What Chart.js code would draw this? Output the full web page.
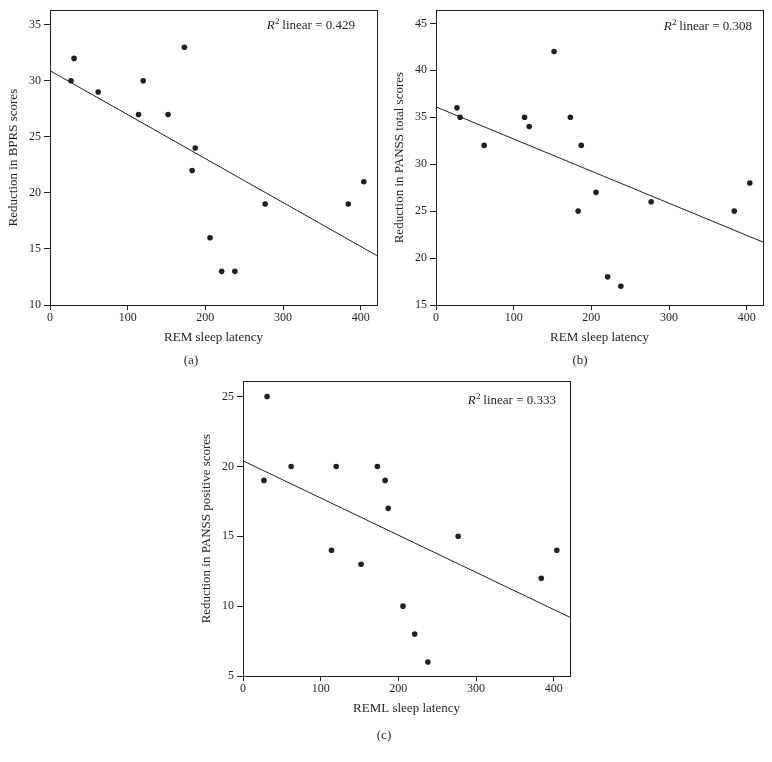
<!DOCTYPE html>
<html>
<head>
<meta charset="utf-8">
<script src="https://cdn.jsdelivr.net/npm/chart.js@4"></script>
<style>
    body { margin: 0; background: #fff; width: 772px; height: 762px; position: relative; overflow: hidden; }
    .panel { position: absolute; width: 386px; height: 380px; }
</style>
</head>
<body>
<div class="panel" style="left:0;top:0"><canvas id="chartA" width="386" height="380"></canvas></div>
<div class="panel" style="left:386px;top:0"><canvas id="chartB" width="386" height="380"></canvas></div>
<div class="panel" style="left:193px;top:371px"><canvas id="chartC" width="386" height="380"></canvas></div>
<script>
// REM sleep latency per patient (same patients in all three panels)
const latency = [27, 31, 62, 114, 120, 152, 173, 183, 187, 206, 221, 238, 277, 384, 404];
const bprsReduction = [30, 32, 29, 27, 30, 27, 33, 22, 24, 16, 13, 13, 19, 19, 21];
const panssTotalReduction = [36, 35, 32, 35, 34, 42, 35, 25, 32, 27, 18, 17, 26, 25, 28];
const panssPositiveReduction = [19, 25, 20, 14, 20, 13, 20, 19, 17, 10, 8, 6, 15, 12, 14];

// fitted line ends, read at x = 0 and x = 421
const fitX = [0, 421];
const bprsFit = [30.9, 14.4];
const panssTotalFit = [36.1, 21.7];
const panssPositiveFit = [20.4, 9.2];

const xTicks = [0, 100, 200, 300, 400];
const bprsTicks = [10, 15, 20, 25, 30, 35];
const panssTotalTicks = [15, 20, 25, 30, 35, 40, 45];
const panssPositiveTicks = [5, 10, 15, 20, 25];

const r2Values = ['0.429', '0.308', '0.333'];
const captions = ['(a)', '(b)', '(c)'];

const ink = '#231f20';
const serif = '"Liberation Serif", serif';

const framePlugin = {
    id: 'frame',
    afterDraw(chart, args, opts) {
        const { ctx, chartArea: a } = chart;
        ctx.save();
        ctx.strokeStyle = ink;
        ctx.lineWidth = 1;
        ctx.strokeRect(Math.round(a.left) + 0.5, Math.round(a.top) + 0.5,
            Math.round(a.right - a.left), Math.round(a.bottom - a.top));

        // R² label, top right
        const rest = ' linear = ' + opts.value;
        ctx.fillStyle = ink;
        ctx.textBaseline = 'middle';
        ctx.font = '13px ' + serif;
        const wRest = ctx.measureText(rest).width;
        ctx.font = '9px ' + serif;
        const wSup = ctx.measureText('2').width;
        ctx.font = 'italic 13px ' + serif;
        const wR = ctx.measureText('R').width;
        const y = a.top + opts.top;
        let x = a.right - opts.right - wRest - wSup - wR;
        ctx.fillText('R', x, y);
        ctx.font = '9px ' + serif;
        ctx.fillText('2', x + wR + 0.5, y - 4);
        ctx.font = '13px ' + serif;
        ctx.fillText(rest, x + wR + wSup, y);

        // panel caption below the axis title
        ctx.textAlign = 'center';
        ctx.fillText(opts.caption, opts.capX, opts.capY);
        ctx.restore();
    }
};

function makeChart(id, values, fit, yMin, yMax, yTicks, yTitle, xTitle, r2, r2Pos, caption, capPos) {
    new Chart(document.getElementById(id), {
        type: 'scatter',
        data: {
            datasets: [
                {
                    data: latency.map((x, i) => ({ x: x, y: values[i] })),
                    pointRadius: 2.8,
                    pointBackgroundColor: ink,
                    pointBorderWidth: 0
                },
                {
                    type: 'line',
                    data: fitX.map((x, i) => ({ x: x, y: fit[i] })),
                    borderColor: ink,
                    borderWidth: 1,
                    pointRadius: 0,
                    fill: false
                }
            ]
        },
        options: {
            responsive: false,
            animation: false,
            layout: { autoPadding: false, padding: { left: 0, right: 9, top: 9, bottom: 35 } },
            plugins: {
                legend: { display: false },
                tooltip: { enabled: false },
                frame: { value: r2, right: r2Pos[0], top: r2Pos[1], caption: caption, capX: capPos[0], capY: capPos[1] }
            },
            scales: {
                x: {
                    type: 'linear',
                    min: 0,
                    max: 421,
                    afterBuildTicks: s => { s.ticks = xTicks.map(v => ({ value: v })); },
                    afterFit: s => { s.height = 40; },
                    border: { display: false },
                    grid: { drawOnChartArea: false, tickLength: 5, color: ink },
                    ticks: { color: ink, font: { family: serif, size: 12 }, padding: 1, maxRotation: 0, autoSkip: false },
                    title: { display: true, text: xTitle, color: ink, font: { family: serif, size: 13 },
                             padding: { top: 0, bottom: 0 } }
                },
                y: {
                    min: yMin,
                    max: yMax,
                    afterBuildTicks: s => { s.ticks = yTicks.map(v => ({ value: v })); },
                    afterFit: s => { s.width = 50; },
                    border: { display: false },
                    grid: { drawOnChartArea: false, tickLength: 6, color: ink },
                    ticks: { color: ink, font: { family: serif, size: 12 }, padding: 3 },
                    title: { display: true, text: yTitle, color: ink, font: { family: serif, size: 13 },
                             padding: { top: 6, bottom: 0 } }
                }
            }
        },
        plugins: [framePlugin]
    });
}

makeChart('chartA', bprsReduction, bprsFit, 10, 36.3, bprsTicks,
    'Reduction in BPRS scores', 'REM sleep latency', r2Values[0], [22, 15], captions[0], [191, 361]);
makeChart('chartB', panssTotalReduction, panssTotalFit, 15, 46.4, panssTotalTicks,
    'Reduction in PANSS total scores', 'REM sleep latency', r2Values[1], [11, 16], captions[1], [194, 361]);
makeChart('chartC', panssPositiveReduction, panssPositiveFit, 5, 26.1, panssPositiveTicks,
    'Reduction in PANSS positive scores', 'REML sleep latency', r2Values[2], [14, 19], captions[2], [191, 365]);
</script>
</body>
</html>
